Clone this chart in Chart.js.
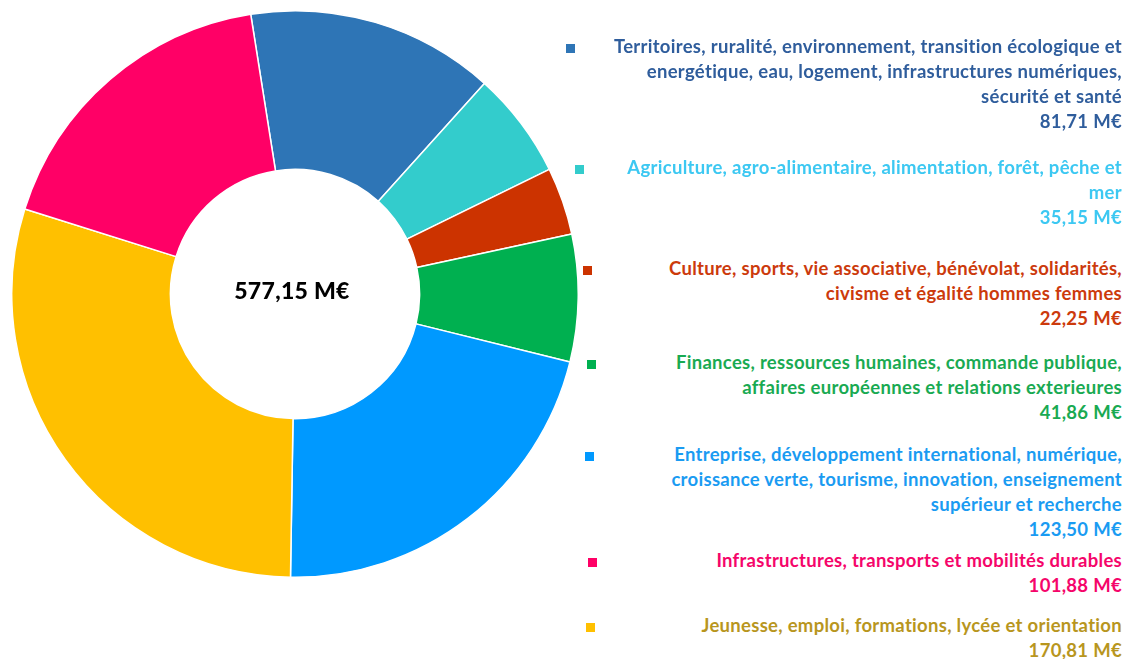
<!DOCTYPE html>
<html lang="fr">
<head>
<meta charset="utf-8">
<title>Budget 577,15 M€</title>
<script src="https://cdn.jsdelivr.net/npm/chart.js@4.4.1/dist/chart.umd.min.js"></script>
<style>
    html, body { margin: 0; padding: 0; background: #fff; }
    body {
        width: 1131px; height: 659px; position: relative; overflow: hidden;
        font-family: Lato, 'Open Sans', sans-serif; font-weight: bold;
    }
    #chart-wrap { position: absolute; left: 11px; top: 10px; width: 568px; height: 568px; }
    #center-label {
        position: absolute; left: 192px; top: 276px; width: 200px;
        text-align: center; font-size: 23px; line-height: 28px; color: #000;
        font-weight: 900; letter-spacing: 0.3px;
    }
    .item {
        position: absolute; right: 9px; text-align: right;
        font-size: 18.5px; letter-spacing: 0.3px; line-height: 25px; white-space: nowrap;
    }
    .swatch { position: absolute; width: 9px; height: 9px; }
</style>
</head>
<body>
<div id="chart-wrap"><canvas id="donut"></canvas></div>
<div id="center-label"></div>
<div id="legend"></div>

<script>
// Legend order (as in the reference)
const categories = [
    ['Territoires, ruralité, environnement, transition écologique et', 'energétique, eau, logement, infrastructures numériques,', 'sécurité et santé'],
    ['Agriculture, agro-alimentaire, alimentation, forêt, pêche et', 'mer'],
    ['Culture, sports, vie associative, bénévolat, solidarités,', 'civisme et égalité hommes femmes'],
    ['Finances, ressources humaines, commande publique,', 'affaires européennes et relations exterieures'],
    ['Entreprise, développement international, numérique,', 'croissance verte, tourisme, innovation, enseignement', 'supérieur et recherche'],
    ['Infrastructures, transports et mobilités durables'],
    ['Jeunesse, emploi, formations, lycée et orientation']
];
const amounts = [81.71, 35.15, 22.25, 41.86, 123.50, 101.88, 170.81];
const totalLabel = '577,15 M€';

const sliceColors = ['#2e75b6', '#33cccc', '#cc3300', '#00b050', '#0099ff', '#ff0066', '#ffc000'];
const textColors = ['#2f5d9c', '#3cc8f2', '#cc3a0c', '#19aa52', '#1a9bf2', '#f5056a', '#b8961e'];

// the ring runs clockwise with Jeunesse before Infrastructures
const pieOrder = [0, 1, 2, 3, 4, 6, 5];

const fmt = v => v.toFixed(2).replace('.', ',') + ' M€';

document.getElementById('center-label').textContent = totalLabel;

new Chart(document.getElementById('donut'), {
    type: 'doughnut',
    data: {
        labels: pieOrder.map(i => categories[i].join(' ')),
        datasets: [{
            data: pieOrder.map(i => amounts[i]),
            backgroundColor: pieOrder.map(i => sliceColors[i]),
            borderColor: '#ffffff',
            borderWidth: 1.5
        }]
    },
    options: {
        responsive: true,
        maintainAspectRatio: false,
        animation: false,
        cutout: '44%',
        rotation: -9,
        layout: { padding: 0 },
        plugins: { legend: { display: false }, tooltip: { enabled: false } }
    }
});

// legend: first-line centre y and swatch x for each entry
const legendY = [46, 167, 268, 362, 454, 560, 625];
const swatchX = [570, 579, 587, 591, 589, 592, 590];

const legend = document.getElementById('legend');
legend.innerHTML = categories.map((lines, i) => `
    <div class="swatch" style="left:${swatchX[i] - 4.5}px;top:${legendY[i] - 2.5}px;background:${sliceColors[i]}"></div>
    <div class="item" style="top:${legendY[i] - 12.5}px;color:${textColors[i]}">
        ${lines.concat(fmt(amounts[i])).join('<br>')}
    </div>`).join('');
</script>
</body>
</html>
